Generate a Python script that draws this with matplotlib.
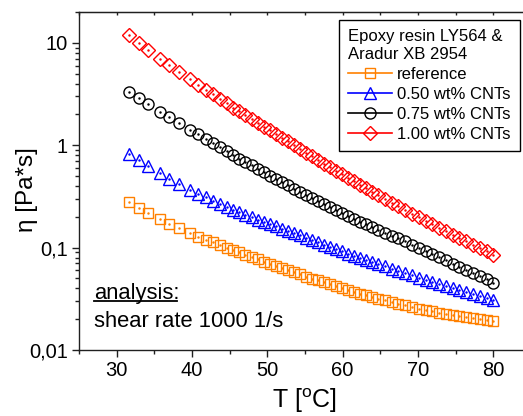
import matplotlib
matplotlib.use("Agg")
import matplotlib.pyplot as plt
import matplotlib.ticker as ticker
from matplotlib.lines import Line2D
import numpy as np

plt.rcParams['font.family'] = ['Liberation Sans', 'DejaVu Sans']
plt.rcParams['mathtext.fontset'] = 'custom'
plt.rcParams['mathtext.rm'] = 'Liberation Sans'

# temperature of the measuring points [C]
temp = [31.6, 32.9, 34.1, 35.7, 37.0, 38.3, 39.7, 40.8, 41.8, 42.8, 43.7, 44.6,
        45.5, 46.3, 47.1, 47.9, 48.7, 49.5, 50.3, 51.1, 51.9, 52.7, 53.5, 54.3,
        55.1, 55.9, 56.7, 57.5, 58.3, 59.1, 59.9, 60.7, 61.5, 62.3, 63.1, 63.9,
        64.7, 65.6, 66.5, 67.4, 68.3, 69.2, 70.1, 71.0, 71.9, 72.8, 73.7, 74.6,
        75.5, 76.4, 77.3, 78.2, 79.1, 80.0]

# viscosity [Pa*s]
eta_ref = [0.279, 0.245, 0.218, 0.189, 0.171, 0.154, 0.138, 0.128, 0.120, 0.113, 0.106, 0.100,
           0.0946, 0.0899, 0.0853, 0.0811, 0.0769, 0.0731, 0.0695, 0.0662, 0.0632, 0.0603, 0.0574, 0.0547,
           0.0522, 0.0499, 0.0478, 0.0457, 0.0437, 0.0419, 0.0400, 0.0385, 0.0370, 0.0356, 0.0343, 0.0330,
           0.0317, 0.0305, 0.0294, 0.0283, 0.0273, 0.0262, 0.0253, 0.0246, 0.0239, 0.0232, 0.0225, 0.0219,
           0.0214, 0.0209, 0.0205, 0.0200, 0.0196, 0.0192]
eta_050 = [0.813, 0.710, 0.625, 0.532, 0.471, 0.417, 0.365, 0.334, 0.310, 0.287, 0.268, 0.250,
           0.234, 0.222, 0.210, 0.199, 0.188, 0.178, 0.169, 0.161, 0.153, 0.146, 0.138, 0.132,
           0.125, 0.119, 0.113, 0.107, 0.102, 0.0966, 0.0918, 0.0875, 0.0834, 0.0795, 0.0757, 0.0722,
           0.0689, 0.0654, 0.0622, 0.0592, 0.0563, 0.0536, 0.0510, 0.0488, 0.0466, 0.0445, 0.0425, 0.0406,
           0.0388, 0.0371, 0.0354, 0.0338, 0.0323, 0.0308]
eta_075 = [3.31, 2.87, 2.52, 2.13, 1.87, 1.64, 1.42, 1.28, 1.16, 1.05, 0.957, 0.875,
           0.802, 0.741, 0.687, 0.635, 0.589, 0.545, 0.505, 0.469, 0.436, 0.405, 0.376, 0.349,
           0.324, 0.303, 0.283, 0.264, 0.247, 0.231, 0.216, 0.203, 0.191, 0.179, 0.169, 0.159,
           0.150, 0.140, 0.131, 0.123, 0.115, 0.107, 0.100, 0.0933, 0.0868, 0.0807, 0.0750, 0.0698,
           0.0650, 0.0605, 0.0563, 0.0525, 0.0489, 0.0455]
eta_100 = [11.8, 9.98, 8.53, 7.00, 6.03, 5.19, 4.42, 3.91, 3.50, 3.13, 2.83, 2.56,
           2.33, 2.14, 1.96, 1.81, 1.66, 1.52, 1.40, 1.29, 1.18, 1.09, 1.00, 0.917,
           0.843, 0.776, 0.716, 0.661, 0.610, 0.562, 0.518, 0.480, 0.444, 0.410, 0.380, 0.352,
           0.326, 0.299, 0.275, 0.254, 0.233, 0.215, 0.198, 0.183, 0.169, 0.156, 0.144, 0.133,
           0.124, 0.115, 0.106, 0.0989, 0.0917, 0.0851]

labels = ["reference", "0.50 wt% CNTs", "0.75 wt% CNTs", "1.00 wt% CNTs"]
colors = ["#FF8000", "#0000FF", "#000000", "#FF0000"]
markers = ["s", "^", "o", "D"]
sizes = [7, 8.5, 8, 7]

fig = plt.figure(figsize=(5.23, 4.16), dpi=100)
# the right spine lies outside the picture, as in the original export
ax = fig.add_axes([79 / 523, 1 - 350 / 416, 452 / 523, 338 / 416])

series = [eta_ref, eta_050, eta_075, eta_100]
handles = []
for eta, lab, c, m, s in zip(series, labels, colors, markers, sizes):
    ax.plot(temp, eta, ls="none", marker=m, ms=s, mfc="none", mec=c, mew=1.0)
    ax.plot(temp, eta, ls="none", marker=".", ms=1.5, color=c)
    handles.append(Line2D([], [], color=c, lw=1.2, marker=m, ms=s, mfc="none",
                          mec=c, mew=1.0, label=lab))

ax.set_yscale("log")
ax.set_xlim(25, 85)
ax.set_ylim(0.01, 20)

ax.xaxis.set_major_locator(ticker.MultipleLocator(10))
ax.xaxis.set_minor_locator(ticker.MultipleLocator(5))
ax.yaxis.set_major_locator(ticker.FixedLocator([0.01, 0.1, 1, 10]))
ax.yaxis.set_major_formatter(ticker.FixedFormatter(["0,01", "0,1", "1", "10"]))
ax.yaxis.set_minor_locator(ticker.LogLocator(base=10, subs=np.arange(2, 10)))
ax.yaxis.set_minor_formatter(ticker.NullFormatter())

ax.tick_params(which="both", direction="out", labelsize=14.5, width=1.0, colors="#202020",
               labelcolor="black")
ax.tick_params(which="major", length=5, pad=3)
ax.tick_params(which="minor", length=3)
for sp in ax.spines.values():
    sp.set_linewidth(1.0)
    sp.set_color("#202020")

top = ax.secondary_xaxis("top")
top.xaxis.set_major_locator(ticker.MultipleLocator(5))
top.tick_params(direction="in", length=2.5, width=1.0, labeltop=False, colors="#202020")

ax.set_xlabel("T [$^{\\mathrm{o}}$C]", fontsize=18)
ax.xaxis.set_label_coords((305 - 79) / 452, -(386 - 350) / 338)
ax.set_ylabel("\u03b7 [Pa*s]", fontsize=17.5)
ax.yaxis.set_label_coords(-(79 - 38) / 452, (350 - 190) / 338)

ax.text(0.033, 0.152, "analysis:", transform=ax.transAxes, fontsize=15.8)
ax.plot([0.033, 0.217], [0.144, 0.144], transform=ax.transAxes, color="black", lw=1.3,
        clip_on=False)
ax.text(0.033, 0.067, "shear rate 1000 1/s", transform=ax.transAxes, fontsize=15.8)

leg = ax.legend(handles=handles, title="Epoxy resin LY564 &\nAradur XB 2954",
                loc="upper right", bbox_to_anchor=(520 / 523, 1 - 20 / 416),
                bbox_transform=fig.transFigure, borderaxespad=0, fontsize=12,
                title_fontsize=12, fancybox=False, framealpha=1, edgecolor="black",
                handlelength=2.6, handletextpad=0.35, labelspacing=0.3,
                borderpad=0.55)
leg._legend_box.align = "left"
leg.get_frame().set_linewidth(1.0)

fig.savefig("out.png", dpi=100)
